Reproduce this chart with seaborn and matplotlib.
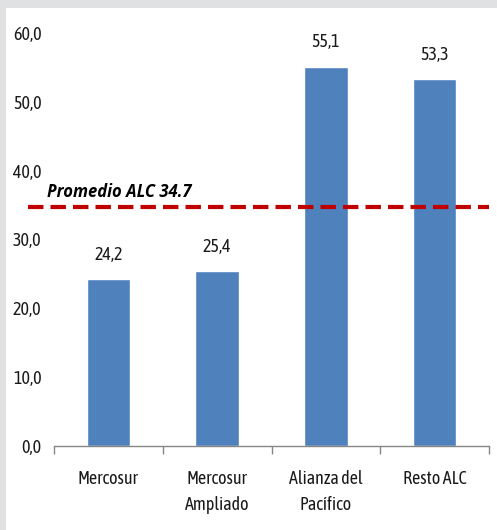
import matplotlib
matplotlib.use('Agg')
import matplotlib.pyplot as plt
import seaborn as sns
import pandas as pd
from matplotlib.patches import Rectangle

categorias = ['Mercosur', 'Mercosur\nAmpliado', 'Alianza del\nPacífico', 'Resto ALC']
valores = [24.2, 25.4, 55.1, 53.3]
promedio = 34.7
yticks = [0, 10, 20, 30, 40, 50, 60]

sns.set_style('white')
plt.rcParams['font.family'] = ['Asap Condensed', 'Liberation Sans Narrow', 'DejaVu Sans']

fig = plt.figure(figsize=(4.97, 5.30), dpi=100)
fig.patch.set_facecolor('#E0E1E3')
fig.patches.append(Rectangle((6/497, 0), 1, 1 - 8/530, transform=fig.transFigure,
                             facecolor='white', edgecolor='none', zorder=-10))
ax = fig.add_axes([54/497, 1 - 446/530, (489 - 54)/497, (446 - 33)/530])
ax.set_facecolor('none')
ax.set_zorder(1)

df = pd.DataFrame({'cat': categorias, 'val': valores})
sns.barplot(data=df, x='cat', y='val', color='#4F81BD', saturation=1, width=0.4, ax=ax)

for c in ax.containers:
    ax.bar_label(c, labels=[f'{v:.1f}'.replace('.', ',') for v in valores],
                 padding=11, fontsize=13, color='#1a1a1a')

ax.set_ylim(0, 60)
ax.set_xlim(-0.5, len(categorias) - 0.5)
ax.set_yticks(yticks)
ax.set_yticklabels([f'{v:.1f}'.replace('.', ',') for v in yticks], fontsize=13, color='#1a1a1a')
ax.tick_params(axis='y', length=0, pad=9)
ax.set_xticks(range(len(categorias)))
ax.set_xticklabels(categorias, fontsize=13, color='#1a1a1a', linespacing=1.6)
ax.tick_params(axis='x', which='major', bottom=False, length=0, pad=17)
ax.set_xticks([i - 0.5 for i in range(len(categorias) + 1)], minor=True)
ax.tick_params(axis='x', which='minor', bottom=True, length=6, color='#868686', width=1)
ax.set_xlabel('')
ax.set_ylabel('')
for s in ['top', 'right', 'left']:
    ax.spines[s].set_visible(False)
ax.spines['bottom'].set_color('#868686')
ax.spines['bottom'].set_linewidth(1)

ax.axhline(promedio, xmin=-26/435, xmax=1.0, color='#C00000', linewidth=3,
           linestyle=(0, (3.7, 1.7)), clip_on=False, zorder=5)
ax.text(-0.565, promedio + 1.45, 'Promedio ALC 34.7', fontsize=12, fontweight='bold',
        fontstyle='italic', ha='left', va='baseline', color='black',
        family=['Open Sans', 'DejaVu Sans'])

fig.savefig('out.png', dpi=100, facecolor=fig.get_facecolor())
